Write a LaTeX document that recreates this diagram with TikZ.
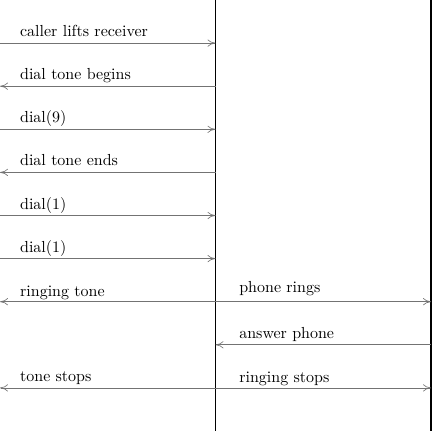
\documentclass[tikz,border=0pt]{standalone}
\usetikzlibrary{arrows.meta}
\begin{document}
\begin{tikzpicture}[x=0.947cm, y=-0.947cm,
  lbl/.style={anchor=base west, inner sep=0pt},
  msg/.style={-{To[length=5pt,width=4.5pt]}, thin, draw=black!55},
  life/.style={-, line width=0.8pt, draw=black}]
\useasboundingbox (0,0) rectangle (10.023,10.139);
\coordinate (T1) at (5,0);
\coordinate (E1) at (5,10);
\coordinate (T2) at (10,0);
\coordinate (E2) at (10,10);
\foreach \r in {1,...,9} {
  \coordinate (L\r) at (0,\r);
  \coordinate (M\r) at (5,\r);
  \coordinate (R\r) at (10,\r);
}
\path (T1) edge[life] (E1);
\path (T2) edge[life] (E2);
\node[lbl] (lift) at (0.46,0.85) {caller lifts receiver};
\node[lbl] (begin) at (0.46,1.85) {dial tone begins};
\node[lbl] (nine) at (0.46,2.85) {dial(9)};
\node[lbl] (ends) at (0.46,3.85) {dial tone ends};
\node[lbl] (oneA) at (0.46,4.85) {dial(1)};
\node[lbl] (oneB) at (0.46,5.85) {dial(1)};
\node[lbl] (ringing) at (0.46,6.87) {ringing tone};
\node[lbl] (rings) at (5.545,6.78) {phone rings};
\node[lbl] (answer) at (5.545,7.85) {answer phone};
\node[lbl] (stops) at (0.46,8.85) {tone stops};
\node[lbl] (rstops) at (5.545,8.87) {ringing stops};
\path (L1) edge[msg] (M1);
\path (M2) edge[msg] (L2);
\path (L3) edge[msg] (M3);
\path (M4) edge[msg] (L4);
\path (L5) edge[msg] (M5);
\path (L6) edge[msg] (M6);
\path (M7) edge[msg] (L7);
\path (M7) edge[msg] (R7);
\path (R8) edge[msg] (M8);
\path (M9) edge[msg] (L9);
\path (M9) edge[msg] (R9);
\end{tikzpicture}
\end{document}
